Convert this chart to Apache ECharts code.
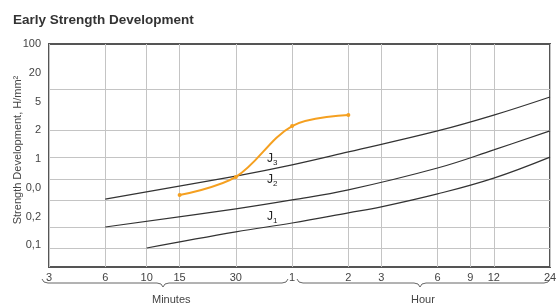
<!DOCTYPE html>
<html>
<head>
<meta charset="utf-8">
<script src="https://cdn.jsdelivr.net/npm/echarts@6/dist/echarts.min.js"></script>
<style>
  html, body { margin: 0; padding: 0; background: #fff; }
  #chart { width: 559px; height: 307px; }
</style>
</head>
<body>
<div id="chart"></div>
<script>
// x axis: minutes, log scale
var xTicks = [3, 6, 10, 15, 30, 60, 120, 180, 360, 540, 720, 1440];
var xTickLabels = ['3', '6', '10', '15', '30', '1', '2', '3', '6', '9', '12', '24'];

// y axis: evenly spaced label slots
var yLabelPos = [0, 1, 2, 3, 4, 5, 6, 7];
var yLabels = ['0,1', '0,2', '0,0', '1', '2', '5', '20', '100'];
var yGridPos = [-0.09, 0.64, 1.58, 2.31, 3.07, 4.01, 5.44];

// curves
var j3Time = [6, 30, 60, 120, 360, 720, 1440];
var j3Val  = [1.61, 2.41, 2.80, 3.25, 3.98, 4.53, 5.16];
var j2Time = [6, 30, 60, 120, 360, 720, 1440];
var j2Val  = [0.64, 1.27, 1.58, 1.93, 2.69, 3.32, 3.98];
var j1Time = [10, 30, 60, 120, 180, 360, 720, 1440];
var j1Val  = [-0.09, 0.47, 0.78, 1.13, 1.34, 1.79, 2.34, 3.07];
var testTime = [15, 30, 60, 120];
var testVal  = [1.75, 2.38, 4.15, 4.53];

var font = "'Liberation Sans Narrow', 'Liberation Sans', Arial, sans-serif";

function pairs(t, v) {
    var out = [];
    for (var i = 0; i < t.length; i++) out.push([t[i], v[i]]);
    return out;
}

function curveLabel(name, sub, x, y) {
    return {
        coord: [x, y],
        symbol: 'circle',
        symbolSize: 1,
        itemStyle: { color: 'rgba(0,0,0,0)' },
        label: {
            show: true,
            position: 'inside',
            formatter: name + '{s|' + sub + '}',
            fontFamily: font,
            fontSize: 12,
            color: '#222',
            rich: { s: { fontSize: 8, fontFamily: font, color: '#222', padding: [8, 0, 0, 0] } }
        }
    };
}

// curly brace under the axis, opening upward
function brace(x0, x1, xm, y) {
    var st = { stroke: '#666', lineWidth: 1, fill: null };
    var b = function (x1_, y1_, cx, cy, x2_, y2_) {
        return { type: 'bezierCurve', shape: { x1: x1_, y1: y1_, cpx1: cx, cpy1: cy, x2: x2_, y2: y2_ }, style: st };
    };
    var l = function (a, c) {
        return { type: 'line', shape: { x1: a, y1: y, x2: c, y2: y }, style: st };
    };
    return [
        b(x0, y - 4, x0 + 1, y, x0 + 6, y),
        l(x0 + 6, xm - 6),
        b(xm - 6, y, xm - 1, y, xm, y + 4),
        b(xm, y + 4, xm + 1, y, xm + 6, y),
        l(xm + 6, x1 - 6),
        b(x1 - 6, y, x1 - 1, y, x1, y - 4)
    ];
}

var myChart = echarts.init(document.getElementById('chart'));

var blackLine = { color: '#333', width: 1.2 };

var option = {
    animation: false,
    backgroundColor: '#fff',
    title: {
        text: 'Early Strength Development',
        left: 8,
        top: 8,
        textStyle: { fontFamily: font, fontSize: 13.5, fontWeight: 'bold', color: '#333' }
    },
    grid: {
        left: 49, right: 9, top: 44, bottom: 40,
        outerBoundsMode: 'none',
        containLabel: false,
        show: true, borderColor: '#555', borderWidth: 2
    },
    xAxis: {
        type: 'log',
        logBase: 10,
        min: 3,
        max: 1440,
        axisLine: { show: false },
        axisTick: { show: false, customValues: xTicks },
        splitLine: { show: true, lineStyle: { color: '#c4c4c4', width: 1 } },
        minorSplitLine: { show: false },
        axisLabel: {
            customValues: xTicks,
            margin: 5,
            fontFamily: font,
            fontSize: 11,
            color: '#444',
            formatter: function (v) {
                var i = xTicks.indexOf(Math.round(v));
                return i >= 0 ? xTickLabels[i] : '';
            }
        }
    },
    yAxis: {
        type: 'value',
        min: -0.75,
        max: 7,
        axisLine: { show: false },
        axisTick: { show: false, customValues: yGridPos },
        splitLine: { show: true, lineStyle: { color: '#c4c4c4', width: 1 } },
        axisLabel: {
            customValues: yLabelPos,
            margin: 8,
            fontFamily: font,
            fontSize: 11,
            color: '#444',
            formatter: function (v) {
                return yLabels[Math.round(v)];
            }
        }
    },
    series: [
        {
            name: 'J3', type: 'line', smooth: 0.4, showSymbol: false,
            lineStyle: blackLine,
            data: pairs(j3Time, j3Val),
            markPoint: { data: [curveLabel('J', '3', 47, 3.0)] }
        },
        {
            name: 'J2', type: 'line', smooth: 0.4, showSymbol: false,
            lineStyle: blackLine,
            data: pairs(j2Time, j2Val),
            markPoint: { data: [curveLabel('J', '2', 47, 2.27)] }
        },
        {
            name: 'J1', type: 'line', smooth: 0.4, showSymbol: false,
            lineStyle: blackLine,
            data: pairs(j1Time, j1Val),
            markPoint: { data: [curveLabel('J', '1', 47, 1.0)] }
        },
        {
            name: 'Test', type: 'line', smooth: 0.35,
            symbol: 'circle', symbolSize: 4,
            itemStyle: { color: '#f5a020' },
            lineStyle: { color: '#f5a020', width: 2 },
            data: pairs(testTime, testVal)
        }
    ],
    graphic: brace(42, 288, 163, 283).concat(brace(297, 550, 420, 283)).concat([
        {
            type: 'text', x: 18, y: 150, rotation: Math.PI / 2,
            style: {
                text: 'Strength Development, H/mm²', font: '11px ' + font, fill: '#444',
                align: 'center', verticalAlign: 'middle'
            }
        },
        {
            type: 'text', left: 152, top: 294,
            style: { text: 'Minutes', font: '11px ' + font, fill: '#444' }
        },
        {
            type: 'text', left: 411, top: 294,
            style: { text: 'Hour', font: '11px ' + font, fill: '#444' }
        }
    ])
};

myChart.setOption(option);
</script>
</body>
</html>
